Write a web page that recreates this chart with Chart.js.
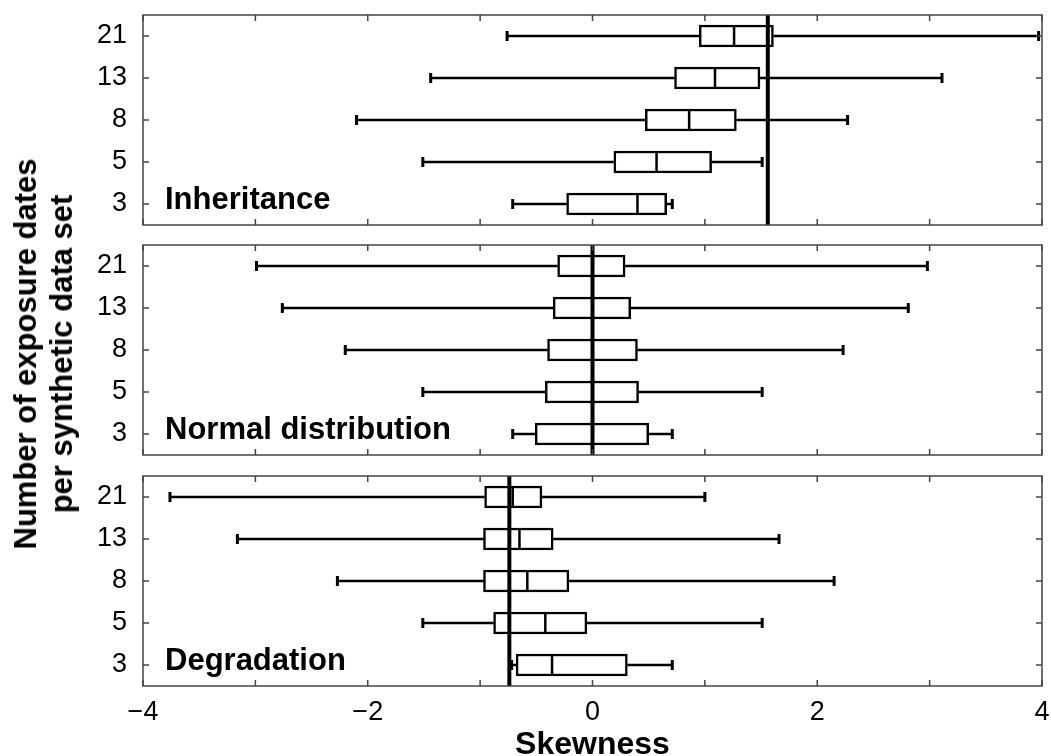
<!DOCTYPE html>
<html>
<head>
<meta charset="utf-8">
<script src="https://cdn.jsdelivr.net/npm/chart.js@4.4.1/dist/chart.umd.min.js"></script>
<style>
  body { margin: 0; background: #fff; }
  #wrap { position: relative; width: 1051px; height: 756px; overflow: hidden; background: #fff; }
  canvas { position: absolute; left: 0; }
  #ylab {
    position: absolute; left: 44px; top: 354px;
    transform: translate(-50%, -50%) rotate(-90deg);
    white-space: nowrap; text-align: center;
    font: bold 31px "Liberation Sans", Arial, sans-serif; line-height: 36px; color: #000;
  }
</style>
</head>
<body>
<div id="wrap">
  <canvas id="p1" width="1051" height="240" style="top:0px"></canvas>
  <canvas id="p2" width="1051" height="240" style="top:230px"></canvas>
  <canvas id="p3" width="1051" height="295" style="top:461px"></canvas>
  <div id="ylab">Number of exposure dates<br>per synthetic data set</div>
</div>
<script>
// number of exposure dates (bottom to top)
const categories = ['3', '5', '8', '13', '21'];
const xTicks = [-4, -3, -2, -1, 0, 1, 2, 3, 4];

// Inheritance
const inhMin = [-0.71, -1.51, -2.10, -1.44, -0.76];
const inhQ1  = [-0.23, 0.19, 0.47, 0.73, 0.95];
const inhMed = [0.40, 0.57, 0.86, 1.09, 1.26];
const inhQ3  = [0.66, 1.06, 1.28, 1.49, 1.61];
const inhMax = [0.71, 1.51, 2.27, 3.11, 3.97];
const inhRef = 1.56;

// Normal distribution
const norMin = [-0.71, -1.51, -2.20, -2.76, -2.99];
const norQ1  = [-0.51, -0.42, -0.40, -0.35, -0.31];
const norMed = [0, 0, 0, 0, 0];
const norQ3  = [0.50, 0.41, 0.40, 0.34, 0.29];
const norMax = [0.71, 1.51, 2.23, 2.81, 2.98];
const norRef = 0;

// Degradation
const degMin = [-0.72, -1.51, -2.27, -3.16, -3.76];
const degQ1  = [-0.68, -0.88, -0.97, -0.97, -0.96];
const degMed = [-0.36, -0.42, -0.58, -0.65, -0.71];
const degQ3  = [0.31, -0.05, -0.21, -0.35, -0.45];
const degMax = [0.71, 1.51, 2.15, 1.66, 1.00];
const degRef = -0.74;

Chart.defaults.font.family = '"Liberation Sans", Arial, sans-serif';
Chart.defaults.color = '#000';

// whiskers, caps, medians, reference line, frame, inner ticks, panel label
const boxParts = {
  id: 'boxParts',
  beforeDatasetsDraw(chart, args, o) {
    const x = chart.scales.x, y = chart.scales.y, ctx = chart.ctx;
    ctx.save();
    ctx.strokeStyle = '#000';
    for (let i = 0; i < categories.length; i++) {
      const yy = y.getPixelForValue(i);
      ctx.lineWidth = 2.5;
      ctx.beginPath();
      ctx.moveTo(x.getPixelForValue(o.min[i]), yy);
      ctx.lineTo(x.getPixelForValue(o.q1[i]), yy);
      ctx.moveTo(x.getPixelForValue(o.q3[i]), yy);
      ctx.lineTo(x.getPixelForValue(o.max[i]), yy);
      ctx.stroke();
      ctx.lineWidth = 3;
      ctx.beginPath();
      [o.min[i], o.max[i]].forEach(v => {
        const xx = x.getPixelForValue(v);
        ctx.moveTo(xx, yy - 5);
        ctx.lineTo(xx, yy + 5);
      });
      ctx.stroke();
    }
    ctx.restore();
  },
  afterDatasetsDraw(chart, args, o) {
    const x = chart.scales.x, y = chart.scales.y, ctx = chart.ctx;
    const a = chart.chartArea;
    ctx.save();
    ctx.strokeStyle = '#000';
    ctx.lineWidth = 2.5;
    for (let i = 0; i < categories.length; i++) {
      const yy = y.getPixelForValue(i);
      const xm = x.getPixelForValue(o.med[i]);
      ctx.beginPath();
      ctx.moveTo(xm, yy - 11);
      ctx.lineTo(xm, yy + 11);
      ctx.stroke();
    }
    // reference line
    const xr = x.getPixelForValue(o.ref);
    ctx.lineWidth = 4;
    ctx.beginPath();
    ctx.moveTo(xr, a.top);
    ctx.lineTo(xr, a.bottom);
    ctx.stroke();
    // frame + ticks
    ctx.strokeStyle = '#444';
    ctx.lineWidth = 1.5;
    ctx.strokeRect(a.left, a.top, a.right - a.left, a.bottom - a.top);
    ctx.beginPath();
    xTicks.forEach(v => {
      const xx = x.getPixelForValue(v);
      ctx.moveTo(xx, a.top); ctx.lineTo(xx, a.top + 6);
      ctx.moveTo(xx, a.bottom); ctx.lineTo(xx, a.bottom - 6);
    });
    for (let i = 0; i < categories.length; i++) {
      const yy = y.getPixelForValue(i);
      ctx.moveTo(a.left, yy); ctx.lineTo(a.left + 6, yy);
      ctx.moveTo(a.right, yy); ctx.lineTo(a.right - 6, yy);
    }
    ctx.stroke();
    // panel label
    ctx.fillStyle = '#000';
    ctx.font = 'bold 31px "Liberation Sans", Arial, sans-serif';
    ctx.textBaseline = 'alphabetic';
    ctx.fillText(o.label, a.left + 22, y.getPixelForValue(0) + 5);
    ctx.restore();
  }
};

function makePanel(id, label, mn, q1, med, q3, mx, ref, showX) {
  const boxes = q1.map((v, i) => [v, q3[i]]);
  return new Chart(document.getElementById(id), {
    type: 'bar',
    data: {
      labels: categories,
      datasets: [{
        data: boxes,
        backgroundColor: '#fff',
        borderColor: '#000',
        borderWidth: 2.5,
        borderSkipped: false,
        barThickness: 22
      }]
    },
    options: {
      indexAxis: 'y',
      responsive: false,
      animation: false,
      layout: { padding: { top: 15, bottom: showX ? 0 : 15, left: 0, right: 9 } },
      plugins: {
        legend: { display: false },
        tooltip: { enabled: false },
        boxParts: { label: label, min: mn, q1: q1, med: med, q3: q3, max: mx, ref: ref }
      },
      scales: {
        x: {
          type: 'linear',
          min: -4, max: 4,
          display: showX,
          grid: { display: false, drawTicks: false },
          border: { display: false },
          ticks: {
            stepSize: 1, autoSkip: false, padding: 10,
            font: { size: 27 },
            callback: v => (v % 2 === 0 ? (v < 0 ? '\u2212' + Math.abs(v) : String(v)) : '')
          },
          title: {
            display: true, text: 'Skewness',
            font: { size: 32, weight: 'bold', lineHeight: 0.7 },
            padding: { top: 0, bottom: 0 }
          },
          afterFit: s => { s.height = showX ? 70 : 0; s.paddingLeft = 0; s.paddingRight = 0; }
        },
        y: {
          type: 'category',
          reverse: true,
          offset: true,
          grid: { display: false, drawTicks: false },
          border: { display: false },
          ticks: { padding: 16, autoSkip: false, font: { size: 27 } },
          afterFit: s => { s.width = 143; s.paddingTop = 0; s.paddingBottom = 0; }
        }
      }
    },
    plugins: [boxParts]
  });
}

makePanel('p1', 'Inheritance', inhMin, inhQ1, inhMed, inhQ3, inhMax, inhRef, false);
makePanel('p2', 'Normal distribution', norMin, norQ1, norMed, norQ3, norMax, norRef, false);
makePanel('p3', 'Degradation', degMin, degQ1, degMed, degQ3, degMax, degRef, true);
</script>
</body>
</html>
